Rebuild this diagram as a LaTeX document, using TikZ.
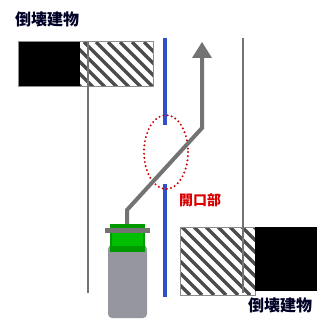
\documentclass[tikz,border=0pt]{standalone}
\usepackage{fontspec}
\newfontfamily\jpfont{Noto Sans CJK JP}
\definecolor{wallblue}{RGB}{50,80,200}
\definecolor{bodygray}{RGB}{150,150,158}
\begin{document}
\begin{tikzpicture}[x=1pt,y=-1pt,
  wall/.style={draw=black!55,line width=1.5pt},
  hatchbox/.style={draw=black!45,line width=1pt},
  stripe/.style={black!70,line width=3.5pt},
  label/.style={font=\jpfont\bfseries\fontsize{16}{16}\selectfont,text=black!85!blue,inner sep=0pt,anchor=north west}]
\useasboundingbox (0,0) rectangle (331,323);

% collapsed building, upper left
\fill (18,42) rectangle (80,87);
\begin{scope}
  \clip (80,42) rectangle (153,87);
  \foreach \s in {-60,-48,...,160}
    \draw[stripe] (\s,42) -- (\s+45,87);
\end{scope}
\draw[hatchbox] (18,42) rectangle (153,87);
\node[label] (topbldg) at (15,12) {倒壊建物};

% collapsed building, lower right
\begin{scope}
  \clip (180,227) rectangle (255,295);
  \foreach \s in {110,122,...,270}
    \draw[stripe] (\s,227) -- (\s+68,295);
\end{scope}
\draw[hatchbox] (180,227) rectangle (255,295);
\fill (255,227) rectangle (317,291);
\node[label] (botbldg) at (248,298) {倒壊建物};

% side walls
\draw[wall] (88,42) -- (88,293);
\draw[wall] (243,38) -- (243,293);

% blue line with its gap
\draw[line width=4pt,draw=wallblue] (165,38) -- (165,125);
\draw[line width=4pt,draw=wallblue] (165,184) -- (165,297);

% opening
\draw[red!80!black,line width=2.2pt,line cap=round,dash pattern=on 0pt off 4.2pt] (166,152) ellipse [x radius=22,y radius=37];
\node[font=\jpfont\bfseries\fontsize{14}{14}\selectfont,text=red!85!black,anchor=north west,inner sep=0pt] (open) at (179,193) {開口部};

% sensor and its path
\coordinate (s0) at (127,226);
\coordinate (s1) at (127,210);
\coordinate (s2) at (202,128);
\coordinate (s3) at (202,42);
\draw[line width=4pt,black!55,line join=miter] (s0) -- (s1) -- (s2) -- (202,56);
\fill[black!55] (s3) -- (192,58) -- (212,58) -- cycle;

\fill[bodygray,rounded corners=4pt] (108,245) -- (108,318) -- (147,318) -- (147,245) -- cycle;
\fill[green!60!black] (110,224) rectangle (145,252);
\fill[green!75!black] (112,233) rectangle (143,246);
\fill[black!55] (105,228) rectangle (150,233);
\end{tikzpicture}
\end{document}
